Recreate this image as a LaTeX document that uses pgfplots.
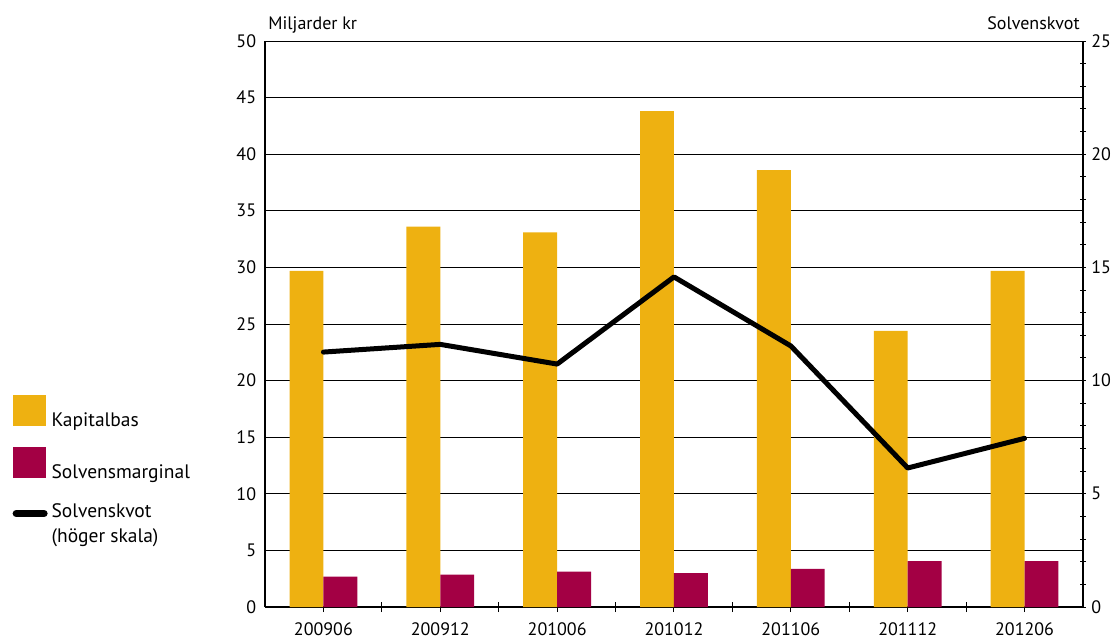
\documentclass[border=0pt]{standalone}
\usepackage{pgfplots}
\pgfplotsset{compat=1.18}
\usepackage{fontspec}
\setmainfont{PT Sans}
\definecolor{kyellow}{RGB}{238,177,17}
\definecolor{kred}{RGB}{163,0,68}
\pgfplotstableread{
x kap sol kvot
0 29.7 2.68 11.26
1 33.6 2.86 11.60
2 33.1 3.12 10.73
3 43.8 3.00 14.58
4 38.6 3.36 11.53
5 24.4 4.06 6.14
6 29.7 4.06 7.45
}\data
\begin{document}
\fontsize{9}{11}\selectfont
\begin{tikzpicture}
\useasboundingbox (-132.5pt,-15.5pt) rectangle (424.5pt,303.5pt);
\begin{axis}[
  at={(0,0)}, anchor=south west,
  scale only axis, width=409pt, height=283pt,
  xmin=-0.5, xmax=6.5, ymin=0, ymax=50,
  axis x line=bottom, axis y line=left,
  axis line style={-, black, line width=0.6pt},
  xtick={0,...,6},
  xticklabels={200906,200912,201006,201012,201106,201112,201206},
  x tick style={black, line width=0.5pt},
  xtick align=outside,
  major tick length=2.5pt,
  extra x ticks={0.5,1.5,2.5,3.5,4.5,5.5},
  extra x tick labels={},
  extra x tick style={tick align=center, major tick length=5pt, grid=none},
  ytick={0,5,...,50},
  ymajorgrids, grid style={black, line width=0.5pt},
  y tick style={draw=none},
  /pgf/number format/assume math mode=true,
  tick label style={font=\fontsize{9}{11}\selectfont},
  xticklabel style={yshift=-2pt},
  clip=false,
  legend style={at={(-0.309,0.375)}, anchor=north west, draw=none, fill=none,
    font=\fontsize{9.75}{12.5}\selectfont, row sep=7pt, inner sep=0pt},
  legend cell align=left,
  legend image code/.code={\fill[#1] (0pt,-2.5pt) rectangle (16.5pt,13pt);},
]
\addplot[ybar, bar width=0.29, bar shift=-0.145, fill=kyellow, draw=none] table[x=x,y=kap]{\data};
\addlegendentry{Kapitalbas}
\addplot[ybar, bar width=0.29, bar shift=0.145, fill=kred, draw=none] table[x=x,y=sol]{\data};
\addlegendentry{Solvensmarginal}
\addlegendimage{legend image code/.code={\path (0pt,10.25pt); \draw[black, line width=3.5pt, line cap=round] (1.5pt,5.5pt) -- (15.5pt,5.5pt);}}
\addlegendentry[align=left]{Solvenskvot\\(höger skala)}
\node[anchor=base west, inner sep=0pt] at ([xshift=1.5pt,yshift=6pt]rel axis cs:0,1) {Miljarder kr};
\node[anchor=base east, inner sep=0pt] at ([xshift=-1.5pt,yshift=6pt]rel axis cs:1,1) {Solvenskvot};
\end{axis}
\begin{axis}[
  at={(0,0)}, anchor=south west,
  scale only axis, width=409pt, height=283pt,
  xmin=-0.5, xmax=6.5, ymin=0, ymax=25,
  axis x line=none, axis y line*=right,
  axis line style={-, black, line width=0.6pt},
  ytick={0,5,...,25}, minor y tick num=4,
  tick align=center, major tick length=3pt, minor tick length=3pt,
  y tick style={black, line width=0.5pt},
  /pgf/number format/assume math mode=true,
  tick label style={font=\fontsize{9}{11}\selectfont},
  yticklabel style={xshift=-0.5pt},
  clip=false,
]
\addplot[black, line width=2.5pt, line join=round, line cap=round] table[x=x,y=kvot]{\data};
\end{axis}
\end{tikzpicture}
\end{document}
